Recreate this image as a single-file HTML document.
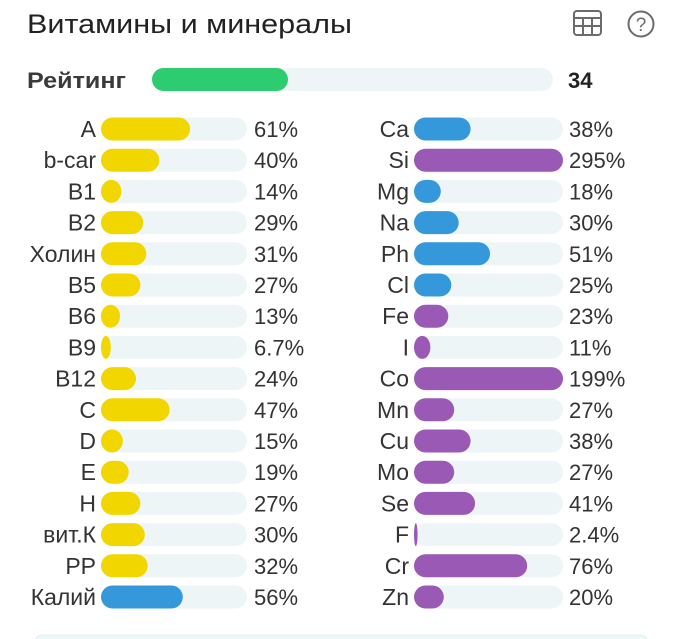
<!DOCTYPE html>
<html><head><meta charset="utf-8"><style>
html,body{margin:0;padding:0;background:#fff;}
svg{display:block;}
text{font-family:"Liberation Sans",sans-serif;fill:#333;}
.l{font-size:23px;text-anchor:end;}
.p{font-size:22px;}
</style></head><body>
<svg width="680" height="639" viewBox="0 0 680 639" xmlns="http://www.w3.org/2000/svg">
<rect width="680" height="639" fill="#fff"/>
<text x="27" y="33" style="font-size:27px;fill:#222" textLength="325" lengthAdjust="spacingAndGlyphs">Витамины и минералы</text>
<!-- icons -->
<g fill="none" stroke="#6b6b6b" stroke-width="2">
<rect x="574" y="11" width="27" height="24" rx="3"/>
<line x1="574" y1="18" x2="601" y2="18"/>
<line x1="574" y1="26" x2="601" y2="26"/>
<line x1="583" y1="18" x2="583" y2="35"/>
<line x1="592" y1="18" x2="592" y2="35"/>
<circle cx="641" cy="24" r="12.5"/>
</g>
<text x="641" y="31" style="font-size:19px;fill:#6b6b6b;text-anchor:middle">?</text>
<!-- rating -->
<text x="27" y="88" style="font-size:22px;font-weight:bold;fill:#3a3a3a" textLength="99" lengthAdjust="spacingAndGlyphs">Рейтинг</text>
<rect x="152" y="68" width="401" height="23" rx="11.5" fill="#eef5f7"/>
<rect x="152" y="68" width="136" height="23" rx="11.5" fill="#2ecc71"/>
<text x="568" y="88" style="font-size:22px;font-weight:bold;fill:#222">34</text>
<!-- left column -->
<g>
<rect x="101" y="117.5" width="146" height="23" rx="11.5" fill="#eef5f7"/><rect x="101" y="117.5" width="89.1" height="23" rx="11.5" ry="11.5" fill="#f2d600"/><text class="l" x="96" y="137">A</text><text class="p" x="254" y="137">61%</text>
<rect x="101" y="148.7" width="146" height="23" rx="11.5" fill="#eef5f7"/><rect x="101" y="148.7" width="58.4" height="23" rx="11.5" ry="11.5" fill="#f2d600"/><text class="l" x="96" y="168.2">b-car</text><text class="p" x="254" y="168.2">40%</text>
<rect x="101" y="179.9" width="146" height="23" rx="11.5" fill="#eef5f7"/><rect x="101" y="179.9" width="20.4" height="23" rx="11.5" ry="11.5" fill="#f2d600"/><text class="l" x="96" y="199.4">B1</text><text class="p" x="254" y="199.4">14%</text>
<rect x="101" y="211.1" width="146" height="23" rx="11.5" fill="#eef5f7"/><rect x="101" y="211.1" width="42.3" height="23" rx="11.5" ry="11.5" fill="#f2d600"/><text class="l" x="96" y="230.6">B2</text><text class="p" x="254" y="230.6">29%</text>
<rect x="101" y="242.3" width="146" height="23" rx="11.5" fill="#eef5f7"/><rect x="101" y="242.3" width="45.3" height="23" rx="11.5" ry="11.5" fill="#f2d600"/><text class="l" x="96" y="261.8">Холин</text><text class="p" x="254" y="261.8">31%</text>
<rect x="101" y="273.5" width="146" height="23" rx="11.5" fill="#eef5f7"/><rect x="101" y="273.5" width="39.4" height="23" rx="11.5" ry="11.5" fill="#f2d600"/><text class="l" x="96" y="293">B5</text><text class="p" x="254" y="293">27%</text>
<rect x="101" y="304.7" width="146" height="23" rx="11.5" fill="#eef5f7"/><rect x="101" y="304.7" width="19" height="23" rx="11.5" ry="11.5" fill="#f2d600"/><text class="l" x="96" y="324.2">B6</text><text class="p" x="254" y="324.2">13%</text>
<rect x="101" y="335.9" width="146" height="23" rx="11.5" fill="#eef5f7"/><rect x="101" y="335.9" width="9.8" height="23" rx="11.5" ry="11.5" fill="#f2d600"/><text class="l" x="96" y="355.4">B9</text><text class="p" x="254" y="355.4">6.7%</text>
<rect x="101" y="367.1" width="146" height="23" rx="11.5" fill="#eef5f7"/><rect x="101" y="367.1" width="35" height="23" rx="11.5" ry="11.5" fill="#f2d600"/><text class="l" x="96" y="386.6">B12</text><text class="p" x="254" y="386.6">24%</text>
<rect x="101" y="398.3" width="146" height="23" rx="11.5" fill="#eef5f7"/><rect x="101" y="398.3" width="68.6" height="23" rx="11.5" ry="11.5" fill="#f2d600"/><text class="l" x="96" y="417.8">C</text><text class="p" x="254" y="417.8">47%</text>
<rect x="101" y="429.5" width="146" height="23" rx="11.5" fill="#eef5f7"/><rect x="101" y="429.5" width="21.9" height="23" rx="11.5" ry="11.5" fill="#f2d600"/><text class="l" x="96" y="449">D</text><text class="p" x="254" y="449">15%</text>
<rect x="101" y="460.7" width="146" height="23" rx="11.5" fill="#eef5f7"/><rect x="101" y="460.7" width="27.7" height="23" rx="11.5" ry="11.5" fill="#f2d600"/><text class="l" x="96" y="480.2">E</text><text class="p" x="254" y="480.2">19%</text>
<rect x="101" y="491.9" width="146" height="23" rx="11.5" fill="#eef5f7"/><rect x="101" y="491.9" width="39.4" height="23" rx="11.5" ry="11.5" fill="#f2d600"/><text class="l" x="96" y="511.4">H</text><text class="p" x="254" y="511.4">27%</text>
<rect x="101" y="523.1" width="146" height="23" rx="11.5" fill="#eef5f7"/><rect x="101" y="523.1" width="43.8" height="23" rx="11.5" ry="11.5" fill="#f2d600"/><text class="l" x="96" y="542.6">вит.К</text><text class="p" x="254" y="542.6">30%</text>
<rect x="101" y="554.3" width="146" height="23" rx="11.5" fill="#eef5f7"/><rect x="101" y="554.3" width="46.7" height="23" rx="11.5" ry="11.5" fill="#f2d600"/><text class="l" x="96" y="573.8">PP</text><text class="p" x="254" y="573.8">32%</text>
<rect x="101" y="585.5" width="146" height="23" rx="11.5" fill="#eef5f7"/><rect x="101" y="585.5" width="81.8" height="23" rx="11.5" ry="11.5" fill="#3498db"/><text class="l" x="96" y="605">Калий</text><text class="p" x="254" y="605">56%</text>
</g>
<!-- right column -->
<g>
<rect x="414" y="117.5" width="149" height="23" rx="11.5" fill="#eef5f7"/><rect x="414" y="117.5" width="56.6" height="23" rx="11.5" ry="11.5" fill="#3498db"/><text class="l" x="409" y="137">Ca</text><text class="p" x="569" y="137">38%</text>
<rect x="414" y="148.7" width="149" height="23" rx="11.5" fill="#eef5f7"/><rect x="414" y="148.7" width="149" height="23" rx="11.5" ry="11.5" fill="#9b59b6"/><text class="l" x="409" y="168.2">Si</text><text class="p" x="569" y="168.2">295%</text>
<rect x="414" y="179.9" width="149" height="23" rx="11.5" fill="#eef5f7"/><rect x="414" y="179.9" width="26.8" height="23" rx="11.5" ry="11.5" fill="#3498db"/><text class="l" x="409" y="199.4">Mg</text><text class="p" x="569" y="199.4">18%</text>
<rect x="414" y="211.1" width="149" height="23" rx="11.5" fill="#eef5f7"/><rect x="414" y="211.1" width="44.7" height="23" rx="11.5" ry="11.5" fill="#3498db"/><text class="l" x="409" y="230.6">Na</text><text class="p" x="569" y="230.6">30%</text>
<rect x="414" y="242.3" width="149" height="23" rx="11.5" fill="#eef5f7"/><rect x="414" y="242.3" width="76" height="23" rx="11.5" ry="11.5" fill="#3498db"/><text class="l" x="409" y="261.8">Ph</text><text class="p" x="569" y="261.8">51%</text>
<rect x="414" y="273.5" width="149" height="23" rx="11.5" fill="#eef5f7"/><rect x="414" y="273.5" width="37.3" height="23" rx="11.5" ry="11.5" fill="#3498db"/><text class="l" x="409" y="293">Cl</text><text class="p" x="569" y="293">25%</text>
<rect x="414" y="304.7" width="149" height="23" rx="11.5" fill="#eef5f7"/><rect x="414" y="304.7" width="34.3" height="23" rx="11.5" ry="11.5" fill="#9b59b6"/><text class="l" x="409" y="324.2">Fe</text><text class="p" x="569" y="324.2">23%</text>
<rect x="414" y="335.9" width="149" height="23" rx="11.5" fill="#eef5f7"/><rect x="414" y="335.9" width="16.4" height="23" rx="11.5" ry="11.5" fill="#9b59b6"/><text class="l" x="409" y="355.4">I</text><text class="p" x="569" y="355.4">11%</text>
<rect x="414" y="367.1" width="149" height="23" rx="11.5" fill="#eef5f7"/><rect x="414" y="367.1" width="149" height="23" rx="11.5" ry="11.5" fill="#9b59b6"/><text class="l" x="409" y="386.6">Co</text><text class="p" x="569" y="386.6">199%</text>
<rect x="414" y="398.3" width="149" height="23" rx="11.5" fill="#eef5f7"/><rect x="414" y="398.3" width="40.2" height="23" rx="11.5" ry="11.5" fill="#9b59b6"/><text class="l" x="409" y="417.8">Mn</text><text class="p" x="569" y="417.8">27%</text>
<rect x="414" y="429.5" width="149" height="23" rx="11.5" fill="#eef5f7"/><rect x="414" y="429.5" width="56.6" height="23" rx="11.5" ry="11.5" fill="#9b59b6"/><text class="l" x="409" y="449">Cu</text><text class="p" x="569" y="449">38%</text>
<rect x="414" y="460.7" width="149" height="23" rx="11.5" fill="#eef5f7"/><rect x="414" y="460.7" width="40.2" height="23" rx="11.5" ry="11.5" fill="#9b59b6"/><text class="l" x="409" y="480.2">Mo</text><text class="p" x="569" y="480.2">27%</text>
<rect x="414" y="491.9" width="149" height="23" rx="11.5" fill="#eef5f7"/><rect x="414" y="491.9" width="61.1" height="23" rx="11.5" ry="11.5" fill="#9b59b6"/><text class="l" x="409" y="511.4">Se</text><text class="p" x="569" y="511.4">41%</text>
<rect x="414" y="523.1" width="149" height="23" rx="11.5" fill="#eef5f7"/><rect x="414" y="523.1" width="3.6" height="23" rx="11.5" ry="11.5" fill="#9b59b6"/><text class="l" x="409" y="542.6">F</text><text class="p" x="569" y="542.6">2.4%</text>
<rect x="414" y="554.3" width="149" height="23" rx="11.5" fill="#eef5f7"/><rect x="414" y="554.3" width="113.2" height="23" rx="11.5" ry="11.5" fill="#9b59b6"/><text class="l" x="409" y="573.8">Cr</text><text class="p" x="569" y="573.8">76%</text>
<rect x="414" y="585.5" width="149" height="23" rx="11.5" fill="#eef5f7"/><rect x="414" y="585.5" width="29.8" height="23" rx="11.5" ry="11.5" fill="#9b59b6"/><text class="l" x="409" y="605">Zn</text><text class="p" x="569" y="605">20%</text>
</g>
<!-- bottom box -->
<rect x="34" y="635" width="614" height="20" rx="8" fill="#eef7f9" stroke="#e3eff3" stroke-width="1"/>
</svg>
</body></html>
